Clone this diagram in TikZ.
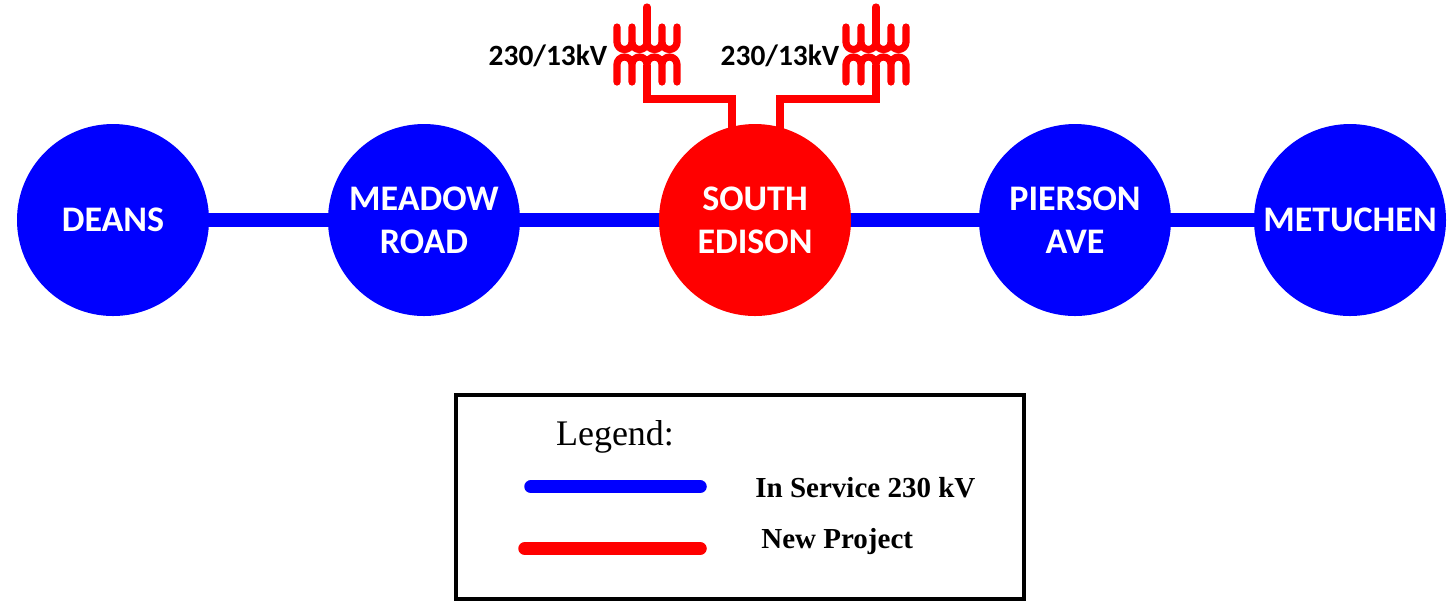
\documentclass[tikz,border=0pt]{standalone}
\usepackage{fontspec}
\setmainfont{Liberation Serif}
\newfontfamily\carlito{Carlito}
\pgfdeclarelayer{background}
\pgfsetlayers{background,main}
\definecolor{lineblue}{RGB}{0,0,255}
\definecolor{newred}{RGB}{255,0,0}
\tikzset{
  station/.style={circle, fill=#1, minimum size=96pt, inner sep=0pt, text=white,
    align=center, font=\carlito\bfseries\fontsize{18}{21.5}\selectfont},
  link/.style={draw=lineblue, line width=7pt},
  feeder/.style={draw=newred, line width=3.6pt, line join=miter},
  winding/.style={draw=newred, line width=3.6pt, line cap=round, line join=round},
  kvlabel/.style={font=\carlito\bfseries\fontsize{14.7}{17}\selectfont, inner sep=0pt},
  legline/.style={line width=6.75pt, line cap=round},
  legtext/.style={font=\bfseries\fontsize{14.5}{17}\selectfont, inner sep=0pt, anchor=base west},
  pics/xfmr/.style={code={
    \draw[winding] (0,7) -- (0,42);
    \draw[winding] (-30,27) -- (-30,42) arc[start angle=180, end angle=0, radius=7.5]
      -- (-15,27) -- (-15,42) arc[start angle=180, end angle=0, radius=7.5]
      arc[start angle=180, end angle=0, radius=7.5]
      -- (15,27) -- (15,42) arc[start angle=180, end angle=0, radius=7.5] -- (30,27);
    \draw[winding] (-30,82) -- (-30,64.5) arc[start angle=180, end angle=360, radius=7.5]
      -- (-15,82) -- (-15,64.5) arc[start angle=180, end angle=360, radius=7.5]
      arc[start angle=180, end angle=360, radius=7.5]
      -- (15,82) -- (15,64.5) arc[start angle=180, end angle=360, radius=7.5] -- (30,82);
    \coordinate (-bot) at (0,64.5);
  }}
}
\begin{document}
\begin{tikzpicture}[x=0.5pt, y=-0.5pt]
\useasboundingbox (0,0) rectangle (1451,602);

% stations
\node[station=lineblue] (deans) at (113,220) {DEANS};
\node[station=lineblue] (meadow) at (424,220) {MEADOW\\ROAD};
\node[station=newred] (se) at (755,220) {SOUTH\\EDISON};
\node[station=lineblue] (pierson) at (1075,220) {PIERSON\\AVE};
\node[station=lineblue] (metuchen) at (1350,220) {METUCHEN};

% transformers
\pic (tl) at (647,0) {xfmr};
\pic (tr) at (876,0) {xfmr};
\coordinate (kl) at (732,99);
\coordinate (kr) at (780,99);

\node[kvlabel] (lbl) at (548,56) {230/13kV};
\node[kvlabel] (lbr) at (780,56) {230/13kV};

\begin{pgfonlayer}{background}
  \draw[link] (deans.center) -- (meadow.center);
  \draw[link] (meadow.center) -- (se.center);
  \draw[link] (se.center) -- (pierson.center);
  \draw[link] (pierson.center) -- (metuchen.center);
  \draw[feeder] (tl-bot) |- (kl) -- (kl |- se.center);
  \draw[feeder] (tr-bot) |- (kr) -- (kr |- se.center);
\end{pgfonlayer}

% legend
\node[draw=black, line width=2pt, minimum width=284pt, minimum height=102.25pt, inner sep=0pt]
  (legend) at (740,496.75) {};
\node[font=\fontsize{18}{21}\selectfont, inner sep=0pt, anchor=base] (legtitle) at (615,445) {Legend:};
\coordinate (b1) at (531,486.7);
\coordinate (b2) at (700,486.7);
\coordinate (r1) at (525,548.5);
\coordinate (r2) at (700,548.5);
\draw[legline, lineblue] (b1) -- (b2);
\draw[legline, newred] (r1) -- (r2);
\node[legtext] (legin) at (755,497) {In Service 230 kV};
\node[legtext] (legnew) at (761,548) {New Project};
\end{tikzpicture}
\end{document}
